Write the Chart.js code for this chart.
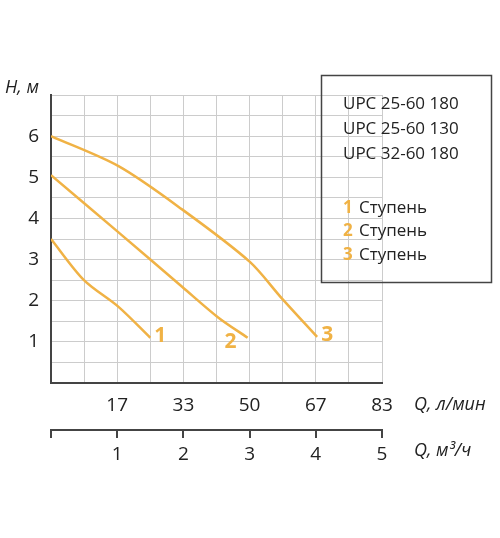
<!DOCTYPE html>
<html><head><meta charset="utf-8">
<script src="https://cdn.jsdelivr.net/npm/chart.js@4"></script>
<style>body{margin:0;background:#fff}#wrap{width:500px;height:538px}</style>
</head><body><div id="wrap"><canvas id="c"></canvas></div>
<script>
// stage 1, 2, 3 curves: [Q л/мин, H м]
const stage1 = [[0, 3.5], [8.3, 2.5], [17, 1.85], [25, 1.1]];
const stage2 = [[0, 5.05], [17, 3.66], [33, 2.34], [42, 1.6], [49.5, 1.1]];
const stage3 = [[0, 6], [17, 5.27], [33, 4.22], [50, 2.95], [58, 2.07], [67, 1.12]];
const flowLabels = ['17', '33', '50', '67', '83'];
const flowM3 = [1, 2, 3, 4, 5];
const legendModels = ['UPC 25-60 180', 'UPC 25-60 130', 'UPC 32-60 180'];
const stageNames = ['1 Ступень', '2 Ступень', '3 Ступень'];

const ORANGE = '#f0b245';
const TEXT = '#222';
const FONT = '"Open Sans", sans-serif';

function ds(points) {
    return {
        data: points.map(p => ({ x: p[0], y: p[1] })),
        borderColor: ORANGE, borderWidth: 2.5, pointRadius: 0,
        tension: 0.3, fill: false
    };
}

const extras = {
    id: 'extras',
    afterDraw(chart) {
        const c = chart.ctx, x = chart.scales.x, y = chart.scales.y;
        c.save();
        // end labels
        c.font = 'bold 21px ' + FONT; c.fillStyle = ORANGE; c.textBaseline = 'middle';
        [[stage1, 4, -2], [stage2, -23, 4], [stage3, 4, -2]].forEach(([s, dx, dy], i) => {
            const p = s[s.length - 1];
            c.fillText(String(i + 1), x.getPixelForValue(p[0]) + dx, y.getPixelForValue(p[1]) + dy);
        });
        // axis titles
        c.fillStyle = TEXT; c.font = 'italic 18px ' + FONT; c.textBaseline = 'middle';
        c.fillText('H, м', 5, 88);
        c.fillText('Q, л/мин', 414, 405);
        c.fillText('Q, м³/ч', 414, 451);
        // legend box
        c.strokeStyle = '#444'; c.lineWidth = 1.5;
        c.strokeRect(321.5, 75.5, 170, 207);
        c.font = '17px ' + FONT;
        legendModels.forEach((t, i) => c.fillText(t, 343, 104 + i * 25));
        stageNames.forEach((t, i) => {
            const yy = 208 + i * 23.5;
            c.fillStyle = ORANGE; c.font = 'bold 17px ' + FONT;
            c.fillText(t.split(' ')[0], 343, yy);
            c.fillStyle = TEXT; c.font = '17px ' + FONT;
            c.fillText(t.split(' ')[1], 359, yy);
        });
        c.restore();
    }
};

new Chart(document.getElementById('c'), {
    type: 'line',
    data: { datasets: [ds(stage1), ds(stage2), ds(stage3)] },
    options: {
        responsive: true, maintainAspectRatio: false, animation: false,
        layout: { padding: { left: 0, top: 95, right: 118, bottom: 68 } },
        plugins: { legend: { display: false }, tooltip: { enabled: false } },
        scales: {
            x: {
                type: 'linear', min: 0, max: 83.333,
                afterBuildTicks: s => { s.ticks = []; for (let i = 0; i <= 10; i++) s.ticks.push({ value: i * 83.333 / 10 }); },
                afterFit: s => { s.height = 47; },
                grid: { color: '#cccccc', lineWidth: 1, drawTicks: false },
                border: { color: '#444', width: 2 },
                ticks: {
                    padding: 11, color: TEXT, font: { family: FONT, size: 19 }, maxRotation: 0, autoSkip: false,
                    callback: (v, i) => (i > 0 && i % 2 === 0) ? flowLabels[i / 2 - 1] : ''
                }
            },
            x2: {
                type: 'linear', position: 'bottom', min: 0, max: 5,
                afterBuildTicks: s => { s.ticks = [{ value: 0 }].concat(flowM3.map(v => ({ value: v }))); },
                afterFit: s => { s.height = 40; },
                grid: { drawOnChartArea: false, color: '#444', lineWidth: 2, tickLength: 8 },
                border: { color: '#444', width: 2 },
                ticks: {
                    padding: 5, color: TEXT, font: { family: FONT, size: 19 }, maxRotation: 0, autoSkip: false,
                    callback: v => v === 0 ? '' : String(v)
                }
            },
            y: {
                min: 0, max: 7,
                afterBuildTicks: s => { s.ticks = []; for (let i = 0; i <= 14; i++) s.ticks.push({ value: i / 2 }); },
                afterFit: s => { s.width = 51; },
                grid: { color: '#cccccc', lineWidth: 1, drawTicks: false },
                border: { color: '#444', width: 2 },
                ticks: {
                    padding: 12, color: TEXT, font: { family: FONT, size: 19 }, autoSkip: false,
                    callback: v => (v >= 1 && v <= 6 && Number.isInteger(v)) ? String(v) : ''
                }
            }
        }
    },
    plugins: [extras]
});
</script></body></html>
